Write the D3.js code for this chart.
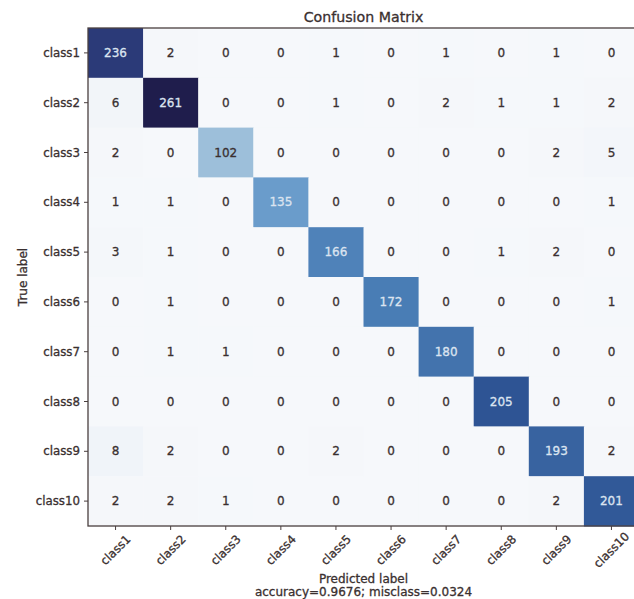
<!DOCTYPE html>
<html>
<head>
<meta charset="utf-8">
<script src="https://cdn.jsdelivr.net/npm/d3@7"></script>
<style>
  body { margin: 0; background: #fff; }
  text { font-family: "DejaVu Sans", sans-serif; fill: #3a3030; stroke: #3a3030; stroke-width: 0.3px; }
</style>
</head>
<body>
<svg id="chart" width="634" height="599"></svg>
<script>
// class names (rows = true label, columns = predicted label)
const classes = ["class1", "class2", "class3", "class4", "class5",
                 "class6", "class7", "class8", "class9", "class10"];

// confusion matrix counts, one array per true class
const row1  = [236, 2, 0, 0, 1, 0, 1, 0, 1, 0];
const row2  = [6, 261, 0, 0, 1, 0, 2, 1, 1, 2];
const row3  = [2, 0, 102, 0, 0, 0, 0, 0, 2, 5];
const row4  = [1, 1, 0, 135, 0, 0, 0, 0, 0, 1];
const row5  = [3, 1, 0, 0, 166, 0, 0, 1, 2, 0];
const row6  = [0, 1, 0, 0, 0, 172, 0, 0, 0, 1];
const row7  = [0, 1, 1, 0, 0, 0, 180, 0, 0, 0];
const row8  = [0, 0, 0, 0, 0, 0, 0, 205, 0, 0];
const row9  = [8, 2, 0, 0, 2, 0, 0, 0, 193, 2];
const row10 = [2, 2, 1, 0, 0, 0, 0, 0, 2, 201];
const rows = [row1, row2, row3, row4, row5, row6, row7, row8, row9, row10];

const titleText = "Confusion Matrix";
const xLabel = "Predicted label";
const yLabel = "True label";
const footText = "accuracy=0.9676; misclass=0.0324";

const svg = d3.select("#chart");

// plot box (right edge runs past the window like in the picture)
const plot = { left: 88, top: 28, right: 639, bottom: 526 };

const x = d3.scaleBand().domain(classes).range([plot.left, plot.right]);
const y = d3.scaleBand().domain(classes).range([plot.top, plot.bottom]);

// Blues-like colour ramp as it looks in the picture
const maxVal = d3.max(rows, r => d3.max(r));
const color = d3.scaleLinear()
  .domain([0, 10, 102, 135, 170, 205, 236, 261])
  .range(["#f6f8fb", "#eff3f8", "#9dbfda", "#6a9ccb", "#4b7fb7", "#2e5494", "#2b3a78", "#1f1d4c"])
  .clamp(true);

// flatten into cells
const cells = [];
rows.forEach((r, i) => {
  r.forEach((v, j) => {
    cells.push({ t: classes[i], p: classes[j], v: v });
  });
});

const g = svg.append("g");

g.selectAll("rect.cell")
  .data(cells)
  .enter()
  .append("rect")
  .attr("class", "cell")
  .attr("x", d => x(d.p))
  .attr("y", d => y(d.t))
  .attr("width", x.bandwidth() + 0.5)
  .attr("height", y.bandwidth() + 0.5)
  .attr("fill", d => color(d.v));

const thresh = maxVal / 2;
g.selectAll("text.val")
  .data(cells)
  .enter()
  .append("text")
  .attr("class", "val")
  .attr("x", d => x(d.p) + x.bandwidth() / 2)
  .attr("y", d => y(d.t) + y.bandwidth() / 2)
  .attr("text-anchor", "middle")
  .attr("dominant-baseline", "central")
  .style("font-size", "12px")
  .style("fill", d => d.v > thresh ? "#dce4f0" : "#3a3030")
  .style("stroke", d => d.v > thresh ? "#dce4f0" : "#3a3030")
  .text(d => d.v);

// frame
svg.append("rect")
  .attr("x", plot.left)
  .attr("y", plot.top)
  .attr("width", plot.right - plot.left)
  .attr("height", plot.bottom - plot.top)
  .attr("fill", "none")
  .attr("stroke", "#4a3f3f")
  .attr("stroke-width", 1.3);

// y axis ticks
const yAxis = svg.append("g");
yAxis.selectAll("line")
  .data(classes)
  .enter()
  .append("line")
  .attr("x1", plot.left - 4)
  .attr("x2", plot.left)
  .attr("y1", d => y(d) + y.bandwidth() / 2)
  .attr("y2", d => y(d) + y.bandwidth() / 2)
  .attr("stroke", "#4a3f3f");
yAxis.selectAll("text")
  .data(classes)
  .enter()
  .append("text")
  .attr("x", plot.left - 8)
  .attr("y", d => y(d) + y.bandwidth() / 2)
  .attr("text-anchor", "end")
  .attr("dominant-baseline", "central")
  .style("font-size", "11.8px")
  .text(d => d);

// x axis ticks
const xAxis = svg.append("g");
xAxis.selectAll("line")
  .data(classes)
  .enter()
  .append("line")
  .attr("x1", d => x(d) + x.bandwidth() / 2)
  .attr("x2", d => x(d) + x.bandwidth() / 2)
  .attr("y1", plot.bottom)
  .attr("y2", plot.bottom + 4)
  .attr("stroke", "#4a3f3f");
xAxis.selectAll("text")
  .data(classes)
  .enter()
  .append("text")
  .attr("transform", d => `translate(${x(d) + x.bandwidth() / 2},${plot.bottom + 24}) rotate(-45)`)
  .attr("text-anchor", "middle")
  .attr("dominant-baseline", "central")
  .style("font-size", "11.8px")
  .text(d => d);

const cx = (plot.left + plot.right) / 2;

// title
svg.append("text")
  .attr("x", cx)
  .attr("y", 22)
  .attr("text-anchor", "middle")
  .style("font-size", "14.2px")
  .text(titleText);

// axis labels
svg.append("text")
  .attr("x", cx)
  .attr("y", 583)
  .attr("text-anchor", "middle")
  .style("font-size", "12px")
  .text(xLabel);
svg.append("text")
  .attr("x", cx)
  .attr("y", 596)
  .attr("text-anchor", "middle")
  .style("font-size", "12px")
  .text(footText);
svg.append("text")
  .attr("transform", `translate(27,${(plot.top + plot.bottom) / 2}) rotate(-90)`)
  .attr("text-anchor", "middle")
  .style("font-size", "12px")
  .text(yLabel);
</script>
</body>
</html>
